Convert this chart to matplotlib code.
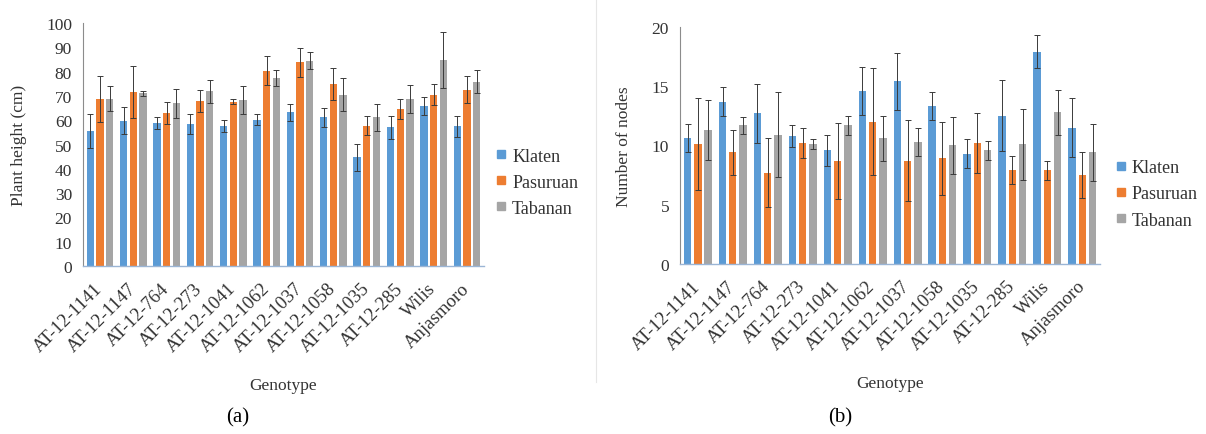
import numpy as np
import matplotlib
matplotlib.use("Agg")
import matplotlib.pyplot as plt
from matplotlib.lines import Line2D

plt.rcParams['font.family'] = ['Liberation Serif', 'DejaVu Serif']
plt.rcParams['font.serif'] = ['Liberation Serif', 'DejaVu Serif']

genotypes = ["AT-12-1141", "AT-12-1147", "AT-12-764", "AT-12-273", "AT-12-1041",
             "AT-12-1062", "AT-12-1037", "AT-12-1058", "AT-12-1035", "AT-12-285",
             "Wilis", "Anjasmoro"]
series = ["Klaten", "Pasuruan", "Tabanan"]
colors = ["#5B9BD5", "#ED7D31", "#A5A5A5"]

# (a) Plant height (cm)
height_klaten = [55.4, 59.8, 58.8, 58.4, 57.7, 60.2, 63.2, 61.2, 44.7, 57.1, 65.7, 57.5]
height_pasuruan = [68.7, 71.7, 63.0, 67.8, 67.6, 80.4, 83.8, 74.9, 57.7, 64.6, 70.5, 72.6]
height_tabanan = [68.9, 71.0, 67.0, 71.9, 68.3, 77.4, 84.5, 70.5, 61.2, 68.7, 84.8, 75.8]
height_err_klaten = [7.0, 5.5, 2.5, 4.0, 2.5, 2.3, 3.5, 3.8, 5.5, 4.8, 3.7, 4.4]
height_err_pasuruan = [9.5, 10.7, 4.5, 4.6, 1.0, 6.0, 6.0, 6.6, 3.9, 4.1, 4.4, 5.4]
height_err_tabanan = [5.0, 1.0, 6.0, 4.8, 5.6, 3.4, 3.5, 6.9, 5.5, 5.8, 11.4, 4.8]

# (b) Number of nodes
nodes_klaten = [10.6, 13.7, 12.7, 10.8, 9.6, 14.6, 15.4, 13.3, 9.3, 12.5, 17.9, 11.5]
nodes_pasuruan = [10.1, 9.4, 7.7, 10.2, 8.7, 12.0, 8.7, 8.9, 10.2, 7.9, 7.9, 7.5]
nodes_tabanan = [11.3, 11.7, 10.9, 10.1, 11.7, 10.6, 10.3, 10.0, 9.6, 10.1, 12.8, 9.4]
nodes_err_klaten = [1.2, 1.2, 2.5, 0.9, 1.3, 2.0, 2.4, 1.2, 1.2, 3.0, 1.4, 2.5]
nodes_err_pasuruan = [3.9, 1.9, 2.9, 1.3, 3.2, 4.5, 3.4, 3.1, 2.5, 1.2, 0.8, 1.9]
nodes_err_tabanan = [2.5, 0.7, 3.6, 0.4, 0.8, 1.9, 1.2, 2.4, 0.8, 3.0, 1.9, 2.4]

fig = plt.figure(figsize=(12.06, 4.35), dpi=100)
axA = fig.add_axes([0.069, 0.386, 0.332, 0.559])
axB = fig.add_axes([0.564, 0.391, 0.348, 0.545])

def draw(ax, vals, errs, ymax, ystep, ylabel, leg_anchor):
    x = np.arange(len(genotypes))
    w = 0.22
    offs = [-0.29, 0.0, 0.29]
    for v, e, c, o, name in zip(vals, errs, colors, offs, series):
        ax.bar(x + o, v, width=w, color=c, label=name, zorder=2)
        ax.errorbar(x + o, v, yerr=e, fmt='none', ecolor='#3a3a3a',
                    elinewidth=0.7, capsize=2.5, capthick=0.7, zorder=3)
    ax.set_xlim(-0.5, len(genotypes) - 0.5)
    ax.set_ylim(0, ymax)
    ax.set_yticks(np.arange(0, ymax + 0.01, ystep))
    ax.set_xticks(x)
    ax.set_xticklabels(genotypes, rotation=45, ha='right', va='center',
                       rotation_mode='anchor', fontsize=13.5, color='#333333')
    ax.tick_params(axis='y', length=0, labelsize=12.5, labelcolor='#333333', pad=8)
    ax.tick_params(axis='x', length=0, pad=14)
    for s in ['top', 'right']:
        ax.spines[s].set_visible(False)
    ax.spines['left'].set_color('#8c8c8c')
    ax.spines['bottom'].set_color('#9bb5d5')
    ax.spines['left'].set_linewidth(0.8)
    ax.spines['bottom'].set_linewidth(1.0)
    ax.set_ylabel(ylabel, fontsize=12.5, color='#333333', labelpad=14)
    ax.set_xlabel("Genotype", fontsize=12.5, color='#333333', labelpad=16)
    handles = [Line2D([0], [0], marker='s', linestyle='none', markersize=6,
                      markerfacecolor=c, markeredgecolor=c) for c in colors]
    ax.legend(handles, series, loc='center left', bbox_to_anchor=leg_anchor,
              frameon=False, fontsize=13, handlelength=0.6, handletextpad=0.3,
              labelspacing=0.5, labelcolor='#333333')

draw(axA, [height_klaten, height_pasuruan, height_tabanan],
     [height_err_klaten, height_err_pasuruan, height_err_tabanan],
     100, 10, "Plant height (cm)", (0.99, 0.345))
draw(axB, [nodes_klaten, nodes_pasuruan, nodes_tabanan],
     [nodes_err_klaten, nodes_err_pasuruan, nodes_err_tabanan],
     20, 5, "Number of nodes", (0.998, 0.295))

fig.text(0.197, 0.04, "(a)", fontsize=15, ha='center', va='center')
fig.text(0.697, 0.04, "(b)", fontsize=15, ha='center', va='center')
fig.add_artist(Line2D([0.494, 0.494], [0.12, 1.0], color='#e6e6e6', linewidth=0.8))

fig.savefig("out.png", dpi=100)
